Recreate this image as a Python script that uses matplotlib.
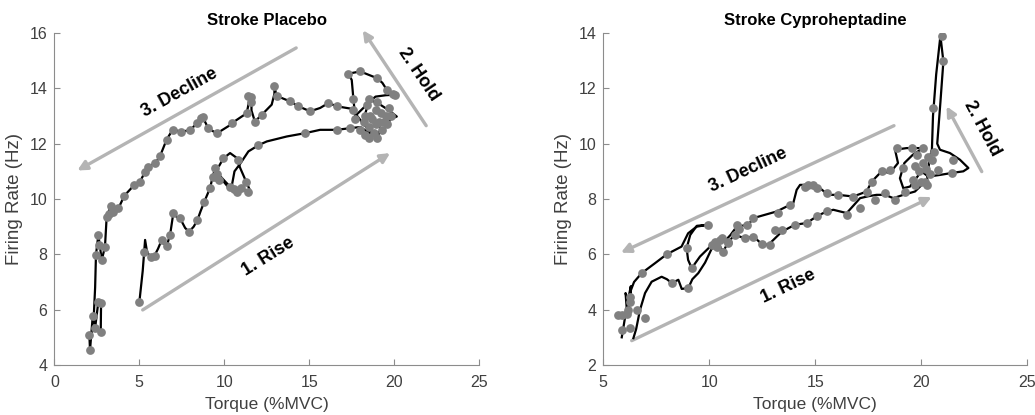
import numpy as np
import matplotlib
matplotlib.use("Agg")
import matplotlib.pyplot as plt

plt.rcParams['font.family'] = ['Liberation Sans', 'DejaVu Sans']

# ---- Stroke Placebo: trajectory line and sample points ----
plac_line_x = [5.0, 5.2, 5.34, 5.45, 5.6, 5.9, 6.1, 6.32, 6.5, 6.61, 6.81, 7.0, 7.2, 7.4, 7.7, 7.93,
               8.2, 8.42, 8.6, 8.81, 9.16, 9.32, 9.46, 9.7, 9.95, 10.34, 10.7, 10.95, 11.2, 11.52,
               11.3, 10.9, 10.6, 10.34, 10.1, 9.8, 9.6, 9.8, 10.2, 10.45, 10.6, 10.93, 11.42, 12.0,
               12.5, 13.68, 14.76, 15.64, 16.62, 17.4, 18.0,
               18.5, 19.0, 19.5, 19.8, 20.15, 19.7, 19.2, 18.7, 18.2, 17.7, 17.6, 17.5, 17.3, 18.0,
               18.98, 19.3, 19.56, 20.05, 19.5, 18.9, 18.5, 18.3, 18.8, 19.3, 18.8, 18.2, 17.7, 17.6,
               16.62, 16.13, 15.64, 15.05, 14.36, 13.87, 13.38, 13.08, 12.95, 12.95, 12.79, 12.2,
               11.8, 11.6, 11.6, 11.45, 11.32, 10.44, 10.34, 9.56, 9.06, 8.87, 8.64, 8.38, 7.99,
               7.46, 6.97, 6.61, 6.22, 5.93, 5.53, 5.34, 5.04, 4.71, 4.12, 3.77, 3.47, 3.34, 3.08,
               2.98, 2.79, 2.59, 2.45, 2.40, 2.30, 2.26, 2.10, 2.06, 2.40, 2.59, 2.75, 2.73]
plac_line_y = [6.26, 7.4, 8.52, 8.1, 7.95, 7.96, 8.2, 8.52, 8.35, 8.3, 8.70, 9.48, 9.35, 9.30, 8.95, 8.82,
               9.0, 9.24, 9.55, 9.88, 10.39, 10.81, 11.11, 11.2, 11.47, 11.66, 11.5, 11.1, 10.75, 10.3,
               10.3, 10.35, 10.4, 10.45, 10.6, 10.8, 10.9, 10.75, 10.45, 10.5, 11.0, 11.27, 11.72, 11.94,
               12.08, 12.26, 12.38, 12.5, 12.5, 12.56, 12.6,
               12.4, 12.3, 12.6, 12.9, 12.98, 13.2, 13.4, 13.55, 13.3, 13.0, 13.6, 14.3, 14.53, 14.61,
               14.37, 14.2, 13.95, 13.77, 13.75, 13.7, 13.5, 13.1, 12.8, 12.5, 12.3, 12.7, 13.1, 13.25,
               13.35, 13.47, 13.29, 13.17, 13.35, 13.53, 13.65, 13.71, 14.07, 13.8, 13.41, 13.04,
               12.8, 13.2, 13.7, 13.5, 13.1, 12.74, 12.67, 12.37, 12.55, 12.79, 12.91, 12.73, 12.49,
               12.43, 12.51, 12.15, 11.55, 11.29, 11.17, 10.99, 10.62, 10.51, 10.12, 9.66, 9.54, 9.76, 9.36,
               8.28, 7.79, 8.70, 7.98, 6.8, 5.5, 5.77, 4.54, 5.08, 5.34, 6.29, 6.24, 5.2]

plac_dot_x = [5.0, 5.28, 5.69, 5.93, 6.32, 6.61, 6.81, 7.0, 7.4, 7.93, 8.42, 8.81, 9.16, 9.32, 9.46,
              9.95, 9.6, 9.7, 9.5, 10.34, 10.6, 10.73, 11.0, 11.42, 11.3, 10.83, 12.0, 14.76, 16.62, 17.4,
              18.0, 18.3, 18.5, 18.7, 18.9, 19.1, 19.3, 19.5, 19.7, 18.4, 18.6, 18.8, 19.0, 19.2, 18.2,
              17.7, 17.6, 19.4, 18.9, 19.6, 18.5, 19.0, 18.3, 19.8,
              17.3, 18.0, 18.98, 19.56, 19.9, 20.05, 18.5,
              17.6, 16.62, 16.13, 15.05, 14.36, 13.87, 13.08, 12.95, 12.2, 11.8, 11.6, 11.6, 11.42,
              11.32, 10.44, 9.56, 9.06, 8.64, 8.75, 8.38, 7.99, 7.46, 6.97, 6.61, 6.22, 5.93, 5.53,
              5.34, 5.04, 4.71, 4.12, 3.77, 3.47, 3.34, 3.2, 3.08, 2.98, 2.79, 2.59, 2.65, 2.45, 2.59,
              2.75, 2.73, 2.40, 2.26, 2.06, 2.10]
plac_dot_y = [6.26, 8.09, 7.91, 7.94, 8.52, 8.30, 8.70, 9.48, 9.30, 8.82, 9.24, 9.88, 10.39, 10.81, 11.11,
              11.47, 10.9, 10.7, 10.8, 10.45, 10.35, 10.27, 10.4, 10.27, 10.6, 11.42, 11.94, 12.38, 12.5, 12.56,
              12.5, 12.3, 12.6, 12.9, 13.2, 12.8, 12.5, 13.0, 13.3, 13.4, 13.0, 12.4, 12.2, 13.1, 12.8,
              12.9, 13.6, 12.8, 12.7, 12.7, 12.2, 13.5, 13.0, 13.0,
              14.53, 14.61, 14.37, 13.95, 13.8, 13.77, 13.6,
              13.22, 13.35, 13.47, 13.17, 13.35, 13.53, 13.71, 14.07, 13.04, 12.8, 13.7, 13.5, 13.71,
              13.1, 12.74, 12.37, 12.55, 12.91, 12.95, 12.73, 12.49, 12.43, 12.51, 12.15, 11.55, 11.29, 11.17,
              10.99, 10.62, 10.51, 10.12, 9.66, 9.54, 9.76, 9.45, 9.36, 8.28, 7.79, 8.70, 8.35, 7.98, 6.29,
              6.24, 5.2, 5.34, 5.77, 5.08, 4.54]

# ---- Stroke Cyproheptadine ----
cypro_line_x = [6.42, 6.55, 6.73, 6.97, 7.28, 7.75, 8.0, 8.23, 8.54, 8.7, 9.01, 9.2, 9.48, 9.8, 10.11,
                10.35, 10.5, 10.66, 10.9, 11.21, 11.68, 12.08, 12.47, 12.78, 13.02, 13.34, 13.57, 14.04,
                14.59, 15.06, 15.53, 15.85, 16.48, 17.11, 17.5, 17.89, 18.29, 18.68, 19.15, 19.7, 20.02,
                20.25, 20.3, 20.4, 20.5,
                20.55, 20.7, 20.9, 21.04, 20.9, 20.75, 20.88, 21.35, 21.82, 22.22, 21.98, 21.43, 20.88,
                20.33, 20.0, 19.47, 19.15, 18.99, 19.2, 19.6, 20.09, 19.31, 18.76, 18.9, 18.52, 18.13,
                17.66, 17.42, 16.79, 16.08, 15.61, 15.22, 14.91, 14.28, 14.12, 13.96, 13.81, 13.18, 12.63,
                12.08, 11.84, 11.29, 11.0, 10.7, 10.4, 10.2, 10.0, 9.56, 9.17, 9.0, 8.93, 9.1, 9.41, 9.95,
                9.4, 9.0, 8.69, 7.99, 7.44, 6.81, 6.45, 6.3, 6.2, 6.3, 6.15, 6.05, 6.1, 6.0, 5.87]
cypro_line_y = [2.97, 3.3, 3.99, 4.6, 5.01, 5.19, 5.1, 4.96, 5.08, 4.75, 4.78, 5.1, 5.32, 5.7, 6.2,
                6.28, 6.28, 6.10, 6.46, 6.70, 6.58, 6.64, 6.38, 6.34, 6.52, 6.76, 6.88, 7.07,
                7.13, 7.37, 7.55, 7.61, 7.49, 8.03, 8.1, 8.15, 8.15, 8.03, 8.15, 8.27, 8.51,
                8.51, 8.9, 9.5, 9.8,
                11.0, 12.5, 13.9, 12.97, 11.5, 10.0, 9.78, 9.66, 9.42, 9.12, 9.0, 8.94, 8.87,
                8.81, 9.0, 8.45, 8.39, 8.75, 9.3, 9.6, 9.84, 9.84, 9.78, 9.3, 8.94, 9.0,
                8.63, 8.27, 8.09, 8.15, 8.15, 8.39, 8.51, 8.51, 8.33, 7.85, 7.79, 7.55, 7.43,
                7.31, 7.07, 7.0, 6.7, 6.45, 6.5, 6.4, 6.25, 5.92, 5.50, 5.8, 6.22, 6.7, 7.03, 7.07,
                7.0, 6.76, 6.28, 6.0, 5.68, 5.32, 5.0, 4.7, 4.1, 4.85, 4.3, 4.6, 4.1, 3.6, 3.0]

cypro_dot_x = [6.97, 8.23, 9.01, 10.11, 10.35, 10.5, 10.66, 10.9, 11.21, 11.4, 11.68, 12.08, 12.47,
               12.86, 13.1, 13.41, 14.04, 14.59, 15.06, 15.53, 16.48, 17.11, 17.81, 18.29, 18.76, 19.23,
               19.7, 20.17, 20.25,
               20.96, 21.04, 20.57,
               21.51, 21.43, 20.8, 19.54, 18.84, 20.09, 19.7, 19.9, 20.1, 20.3, 20.5, 19.8, 20.2, 20.4,
               19.6, 20.0, 20.6, 19.15, 18.52, 18.13, 17.66,
               17.42, 16.79, 16.08, 15.53, 15.06, 14.91, 14.67, 14.51, 13.81, 13.25, 12.08, 11.76, 11.37,
               11.29, 10.9, 10.6, 10.27, 9.95, 8.93, 9.17, 7.99, 6.81, 6.18, 6.26, 6.26, 6.58, 5.71, 5.87,
               6.26, 6.1, 5.9]
cypro_dot_y = [3.69, 4.96, 4.78, 6.34, 6.28, 6.5, 6.10, 6.46, 6.70, 6.9, 6.58, 6.64, 6.38,
               6.34, 6.88, 6.88, 7.07, 7.13, 7.37, 7.55, 7.43, 7.67, 7.97, 8.21, 7.97, 8.27,
               8.51, 8.63, 8.51,
               13.88, 12.97, 11.29,
               9.42, 8.94, 9.06, 9.84, 9.84, 9.84, 9.2, 9.0, 9.3, 9.5, 9.4, 9.6, 9.1, 8.9,
               8.7, 8.6, 9.7, 9.12, 9.06, 9.0, 8.63,
               8.27, 8.09, 8.15, 8.21, 8.39, 8.51, 8.5, 8.45, 7.79, 7.49, 7.31, 7.07, 7.0,
               7.05, 6.4, 6.6, 6.46, 7.07, 6.22, 5.50, 6.0, 5.32, 3.99, 4.29, 4.45, 3.99, 3.81, 3.27,
               3.33, 3.85, 3.8]

# phase arrows: (x_start, y_start), (x_end, y_end), label, label pos, rotation
plac_arrows = [((5.2, 5.99), (19.76, 11.66), "1. Rise", (12.6, 7.92), 32),
               ((21.88, 12.65), (18.15, 16.1), "2. Hold", (21.43, 14.49), -56),
               ((14.23, 15.46), (1.35, 11.03), "3. Decline", (7.4, 13.83), 29)]
cypro_arrows = [((6.34, 2.88), (20.49, 8.07), "1. Rise", (13.73, 4.83), 25.5),
                ((22.85, 8.99), (21.19, 11.35), "2. Hold", (22.85, 10.56), -62),
                ((18.71, 10.65), (5.83, 6.06), "3. Decline", (11.84, 9.05), 25)]

spine_col = '#8c8c8c'
text_col = '#404040'
arrow_col = '#b4b4b4'


def panel(ax, lx, ly, dx, dy, arrows, title, xlim, ylim, yticks):
    ax.plot(lx, ly, color='black', lw=1.6, zorder=2)
    ax.plot(dx, dy, 'o', color='#808080', ms=6.3, mec='none', zorder=3)
    for start, end, label, pos, rot in arrows:
        ax.annotate("", xy=end, xytext=start,
                    arrowprops=dict(arrowstyle='-|>', color=arrow_col, lw=2.4,
                                    mutation_scale=14, shrinkA=0, shrinkB=0),
                    annotation_clip=False, zorder=1)
        ax.text(pos[0], pos[1], label, rotation=rot, rotation_mode='anchor',
                ha='center', va='center', fontsize=13, fontweight='bold', color='black')
    ax.set_xlim(xlim)
    ax.set_ylim(ylim)
    ax.set_xticks(np.arange(xlim[0], xlim[1] + 1, 5))
    ax.set_yticks(yticks)
    ax.set_title(title, fontsize=12, fontweight='bold', pad=6)
    ax.set_xlabel("Torque (%MVC)", fontsize=12.5, color=text_col, labelpad=5)
    ax.set_ylabel("Firing Rate (Hz)", fontsize=13.5, color=text_col, labelpad=5)
    ax.spines['top'].set_visible(False)
    ax.spines['right'].set_visible(False)
    for s in ('left', 'bottom'):
        ax.spines[s].set_color(spine_col)
        ax.spines[s].set_linewidth(0.8)
    ax.tick_params(direction='in', length=4, color=spine_col, labelcolor=text_col,
                   labelsize=11.5, width=0.8)
    ax.tick_params(axis='x', pad=7)
    ax.tick_params(axis='y', pad=5)


fig = plt.figure(figsize=(10.35, 4.15), dpi=100)
ax1 = fig.add_axes([0.0525, 0.1205, 0.4105, 0.80])
ax2 = fig.add_axes([0.5829, 0.1205, 0.4097, 0.80])

panel(ax1, plac_line_x, plac_line_y, plac_dot_x, plac_dot_y, plac_arrows,
      "Stroke Placebo", (0, 25), (4, 16), np.arange(4, 17, 2))
panel(ax2, cypro_line_x, cypro_line_y, cypro_dot_x, cypro_dot_y, cypro_arrows,
      "Stroke Cyproheptadine", (5, 25), (2, 14), np.arange(2, 15, 2))

fig.savefig("out.png", dpi=100)
